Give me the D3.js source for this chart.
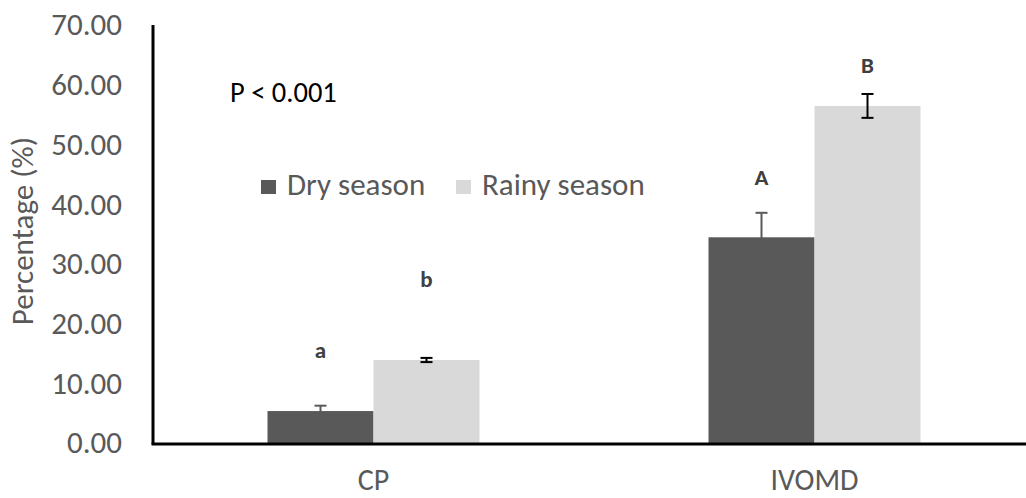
<!DOCTYPE html>
<html>
<head>
<meta charset="utf-8">
<script src="https://cdn.jsdelivr.net/npm/d3@7"></script>
<style>
  body { margin: 0; background: #fff; }
  svg { display: block; font-family: Carlito, Calibri, 'Liberation Sans', Arial, sans-serif; }
</style>
</head>
<body>
<svg id="chart" width="1026" height="498"></svg>
<script>
// chart data
const categories = ['CP', 'IVOMD'];
const seriesNames = ['Dry season', 'Rainy season'];
const dryValues = [5.35, 34.45];
const dryErrors = [0.9, 4.1];
const rainyValues = [13.9, 56.45];
const rainyErrors = [0.35, 2.0];
const dryLetters = ['a', 'A'];
const rainyLetters = ['b', 'B'];
const dryLetterValues = [14.2, 43.2];
const rainyLetterValues = [26.1, 62.0];
const yTicks = [0, 10, 20, 30, 40, 50, 60, 70];

let svg = d3.select('#chart');

let plot = {left: 153, right: 1035, top: 25, bottom: 443};

let xScale = d3.scaleBand()
    .domain(categories)
    .range([plot.left, plot.right]);

let inner = d3.scaleBand()
    .domain(seriesNames)
    .range([0, 212]);

let yScale = d3.scaleLinear()
    .domain([0, 70])
    .range([plot.bottom, plot.top]);

let colors = {'Dry season': '#595959', 'Rainy season': '#d9d9d9'};
let errColors = {'Dry season': '#595959', 'Rainy season': '#000000'};

let rows = [];
categories.forEach(function (c, i) {
    rows.push({cat: c, s: 'Dry season', v: dryValues[i], e: dryErrors[i], lab: dryLetters[i], lv: dryLetterValues[i]});
    rows.push({cat: c, s: 'Rainy season', v: rainyValues[i], e: rainyErrors[i], lab: rainyLetters[i], lv: rainyLetterValues[i]});
});

function barX(d) {
    return xScale(d.cat) + xScale.bandwidth() / 2 - 106 + inner(d.s);
}

// bars
svg.selectAll('.bar')
    .data(rows)
    .enter().append('rect')
    .attr('class', 'bar')
    .attr('x', d => barX(d))
    .attr('y', d => yScale(d.v))
    .attr('width', inner.bandwidth())
    .attr('height', d => yScale(0) - yScale(d.v))
    .attr('fill', d => colors[d.s]);

// error bars
let err = svg.selectAll('.err')
    .data(rows)
    .enter().append('g')
    .attr('class', 'err')
    .attr('stroke', d => errColors[d.s])
    .attr('stroke-width', 2);

err.append('line')
    .attr('x1', d => barX(d) + inner.bandwidth() / 2)
    .attr('x2', d => barX(d) + inner.bandwidth() / 2)
    .attr('y1', d => yScale(d.v - d.e))
    .attr('y2', d => yScale(d.v + d.e));
[1, -1].forEach(function (sign) {
    err.append('line')
        .attr('x1', d => barX(d) + inner.bandwidth() / 2 - 6)
        .attr('x2', d => barX(d) + inner.bandwidth() / 2 + 6)
        .attr('y1', d => yScale(d.v + sign * d.e))
        .attr('y2', d => yScale(d.v + sign * d.e));
});

// significance letters
svg.selectAll('.letter')
    .data(rows)
    .enter().append('text')
    .attr('class', 'letter')
    .attr('x', d => barX(d) + inner.bandwidth() / 2)
    .attr('y', d => yScale(d.lv))
    .attr('text-anchor', 'middle')
    .attr('font-size', 23)
    .attr('font-weight', 'bold')
    .attr('fill', '#404040')
    .text(d => d.lab);

// y axis
let yAxis = d3.axisLeft(yScale)
    .tickValues(yTicks)
    .tickFormat(d3.format('.2f'))
    .tickSize(0)
    .tickPadding(31);
let yg = svg.append('g')
    .attr('transform', 'translate(' + plot.left + ',0)')
    .call(yAxis);
yg.select('.domain').remove();
yg.attr('font-family', null);
yg.selectAll('text')
    .attr('font-size', 31)
    .attr('fill', '#595959');

// axis lines
svg.append('line')
    .attr('x1', plot.left).attr('x2', plot.left)
    .attr('y1', plot.top).attr('y2', plot.bottom + 1)
    .attr('stroke', '#000').attr('stroke-width', 3);
svg.append('line')
    .attr('x1', plot.left - 1.5).attr('x2', 1026)
    .attr('y1', plot.bottom + 1).attr('y2', plot.bottom + 1)
    .attr('stroke', '#000').attr('stroke-width', 3);

// x axis labels
let xAxis = d3.axisBottom(xScale).tickSize(0).tickPadding(26);
let xg = svg.append('g')
    .attr('transform', 'translate(0,' + plot.bottom + ')')
    .call(xAxis);
xg.select('.domain').remove();
xg.attr('font-family', null);
xg.selectAll('text')
    .attr('font-size', 30)
    .attr('fill', '#595959');

// y title
svg.append('text')
    .attr('transform', 'translate(33,231) rotate(-90)')
    .attr('text-anchor', 'middle')
    .attr('font-size', 31)
    .attr('fill', '#595959')
    .text('Percentage (%)');

// p-value note
svg.append('text')
    .attr('x', 230)
    .attr('y', 102)
    .attr('font-size', 28.5)
    .attr('fill', '#000')
    .text('P < 0.001');

// legend
let legendX = [261, 456];
let legend = svg.selectAll('.legend')
    .data(seriesNames)
    .enter().append('g')
    .attr('class', 'legend')
    .attr('transform', (d, i) => 'translate(' + legendX[i] + ',180)');
legend.append('rect')
    .attr('width', 15)
    .attr('height', 14)
    .attr('fill', d => colors[d]);
legend.append('text')
    .attr('x', 26)
    .attr('y', 15)
    .attr('font-size', 31)
    .attr('fill', '#595959')
    .text(d => d);
</script>
</body>
</html>
